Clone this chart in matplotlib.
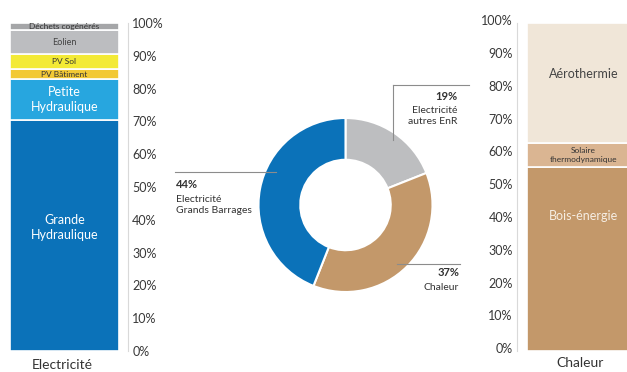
import matplotlib
matplotlib.use("Agg")
import matplotlib.pyplot as plt
from matplotlib.lines import Line2D
from matplotlib.ticker import FixedLocator
from matplotlib.transforms import ScaledTranslation

plt.rcParams['font.family'] = ['Lato', 'DejaVu Sans']

# électricité : composition de la production (en %, de bas en haut)
elecLabels = ["Grande\nHydraulique", "Petite\nHydraulique", "PV Bâtiment", "PV Sol", "Eolien", "Déchets cogénérés"]
elecValues = [70.5, 12.3, 3.2, 4.4, 7.5, 2.1]

# chaleur : composition (en %, de bas en haut)
chalLabels = ["Bois-énergie", "Solaire\nthermodynamique", "Aérothermie"]
chalValues = [56.2, 7.2, 36.6]

# répartition globale (anneau)
donutValues = [19, 37, 44]

yTicks = list(range(0, 101, 10))
yTickLabels = [f"{t}%" for t in yTicks]

# styles
elecColors = ["#0B72B9", "#27A6DF", "#F2C935", "#F3EA36", "#BCBDC0", "#A5A6A8"]
elecTxtColors = ["white", "white", "#333333", "#333333", "#444444", "#333333"]
elecTxtSize = [9, 9, 6, 6, 6.5, 6]
elecTxtPos = [37.8, None, None, None, None, None]   # None -> milieu du segment

chalColors = ["#C3986A", "#DAB592", "#F0E6D8"]
chalTxtColors = ["#F6EEE4", "#333333", "#444444"]
chalTxtSize = [9, 6, 9]
chalTxtPos = [41.2, None, 84.5]

donutColors = ["#BDBEC0", "#C3986A", "#0B72B9"]

W, H = 627, 372
fig = plt.figure(figsize=(W / 100, H / 100), dpi=100)


def px_axes(x0, y0, x1, y1):
    # axes from pixel box (top-left origin)
    return fig.add_axes([x0 / W, 1 - y1 / H, (x1 - x0) / W, (y1 - y0) / H])


def fx(x):
    return x / W


def fy(y):
    return 1 - y / H


def stacked(ax, values, colors, labels, tcolors, tsizes, tpos):
    bottom = 0
    for v, c, lab, tc, ts, tp in zip(values, colors, labels, tcolors, tsizes, tpos):
        ax.bar(0, v, width=1, bottom=bottom, color=c, edgecolor="white", linewidth=1.2)
        ty = bottom + v / 2 if tp is None else tp
        ax.text(0, ty, lab, ha="center", va="center", color=tc,
                fontsize=ts, linespacing=1.3)
        bottom += v
    ax.set_ylim(0, 100)
    ax.yaxis.set_major_locator(FixedLocator(yTicks))
    ax.set_yticklabels(yTickLabels, fontsize=9, color="#383838")
    ax.tick_params(axis="y", length=0, pad=3)
    shift = ScaledTranslation(0, 2 / 72, fig.dpi_scale_trans)
    for t in ax.get_yticklabels():
        t.set_transform(t.get_transform() + shift)
    ax.set_xticks([])
    for s in ["top", "bottom"]:
        ax.spines[s].set_visible(False)


# barre électricité, axe à droite
ax1 = px_axes(10, 23, 128, 351)
stacked(ax1, elecValues, elecColors, elecLabels, elecTxtColors, elecTxtSize, elecTxtPos)
ax1.set_xlim(-0.5, 0.5 + 9 / 109)
ax1.spines["left"].set_visible(False)
ax1.spines["right"].set_color("#D9D9D9")
ax1.yaxis.tick_right()
fig.text(fx(62), fy(365), "Electricité", ha="center", va="center", fontsize=10, color="#333333")

# barre chaleur, axe à gauche
ax2 = px_axes(517, 23, 640, 351)
stacked(ax2, chalValues, chalColors, chalLabels, chalTxtColors, chalTxtSize, chalTxtPos)
ax2.set_xlim(-0.5 - 10 / 113, 0.5)
ax2.spines["right"].set_visible(False)
ax2.spines["left"].set_color("#D9D9D9")
fig.text(fx(580), fy(363), "Chaleur", ha="center", va="center", fontsize=10, color="#333333")

# anneau central
ax3 = px_axes(258.5, 118, 432.5, 292)
ax3.pie(donutValues, colors=donutColors, startangle=90, counterclock=False,
        radius=1, wedgeprops=dict(width=0.48, edgecolor="white", linewidth=1.5))
ax3.set_xlim(-1, 1)
ax3.set_ylim(-1, 1)

lc = "#8C8C8C"
fig.add_artist(Line2D([fx(393), fx(469)], [fy(85), fy(85)], color=lc, lw=0.8))
fig.add_artist(Line2D([fx(393), fx(393)], [fy(85), fy(140)], color=lc, lw=0.8))
fig.add_artist(Line2D([fx(175), fx(276)], [fy(172), fy(172)], color=lc, lw=0.8))
fig.add_artist(Line2D([fx(397), fx(460)], [fy(264), fy(264)], color=lc, lw=0.8))

fig.text(fx(457), fy(97), f"{donutValues[0]}%", ha="right", va="center", fontsize=8,
         fontweight="bold", color="#333333")
fig.text(fx(457), fy(116), "Electricité\nautres EnR", ha="right", va="center", fontsize=7.5,
         color="#333333", linespacing=1.35)

fig.text(fx(176), fy(185), f"{donutValues[2]}%", ha="left", va="center", fontsize=8,
         fontweight="bold", color="#333333")
fig.text(fx(176), fy(205), "Electricité\nGrands Barrages", ha="left", va="center", fontsize=7.5,
         color="#333333", linespacing=1.35)

fig.text(fx(459), fy(272), f"{donutValues[1]}%", ha="right", va="center", fontsize=8,
         fontweight="bold", color="#333333")
fig.text(fx(459), fy(287), "Chaleur", ha="right", va="center", fontsize=7.5, color="#333333")

fig.savefig("out.png", dpi=100)
